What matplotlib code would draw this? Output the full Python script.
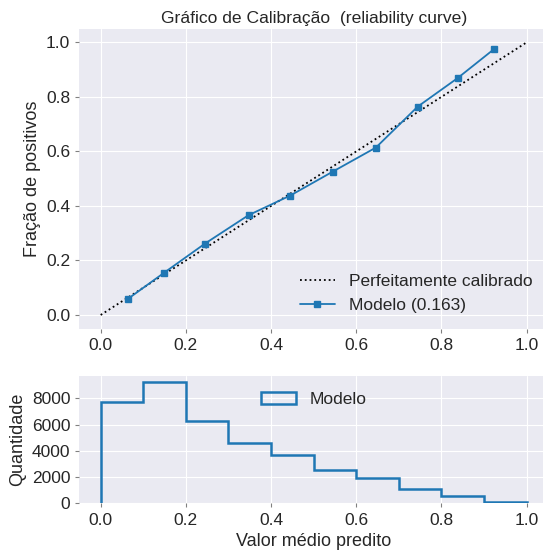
import matplotlib
matplotlib.use("Agg")
import matplotlib.pyplot as plt
import numpy as np

# calibration curve points (mean predicted value, fraction of positives)
mean_pred = [0.063, 0.149, 0.245, 0.347, 0.445, 0.545, 0.646, 0.744, 0.838, 0.924]
frac_pos = [0.058, 0.155, 0.262, 0.366, 0.438, 0.526, 0.614, 0.764, 0.869, 0.976]

# histogram of predicted values
bin_edges = [0.0, 0.1, 0.2, 0.3, 0.4, 0.5, 0.6, 0.7, 0.8, 0.9, 1.0]
counts = [7750, 9250, 6300, 4590, 3680, 2560, 1910, 1110, 550, 95]

plt.style.use("seaborn-v0_8-darkgrid")
plt.rcParams["font.family"] = ["Liberation Sans", "DejaVu Sans"]
plt.rcParams["text.color"] = ".15"
plt.rcParams["axes.labelcolor"] = ".15"
plt.rcParams["xtick.color"] = ".15"
plt.rcParams["ytick.color"] = ".15"

blue = "#1f77b4"

fig = plt.figure(figsize=(5.43, 5.52), dpi=100)
ax1 = fig.add_axes([0.1462, 0.4047, 0.863, 0.5433])
ax2 = fig.add_axes([0.1462, 0.0879, 0.863, 0.231])

ax1.plot([0, 1], [0, 1], "k:", lw=1.3, label="Perfeitamente calibrado")
ax1.plot(mean_pred, frac_pos, "s-", color=blue, lw=1.3, ms=5, label="Modelo (0.163)")
ax1.set_xlim(-0.05, 1.05)
ax1.set_ylim(-0.05, 1.05)
ax1.set_ylabel("Fração de positivos", fontsize=13)
ax1.set_title("Gráfico de Calibração  (reliability curve)", fontsize=12.6, pad=4)
ax1.legend(loc="lower right", fontsize=12.5, frameon=False)

centers = np.array(bin_edges[:-1]) + 0.05
ax2.hist(centers, bins=bin_edges, weights=counts, histtype="step", lw=1.8,
         color=blue, label="Modelo")
ax2.set_xlim(-0.05, 1.05)
ax2.set_yticks([0, 2000, 4000, 6000, 8000])
ax2.set_xlabel("Valor médio predito", fontsize=13)
ax2.set_ylabel("Quantidade", fontsize=13)
ax2.legend(loc="upper center", fontsize=12.5, frameon=False)

for ax in (ax1, ax2):
    ax.tick_params(labelsize=12.5, length=3, width=0.8, color=".5")
    ax.set_xticks([0.0, 0.2, 0.4, 0.6, 0.8, 1.0])

fig.savefig("out.png", dpi=100)
